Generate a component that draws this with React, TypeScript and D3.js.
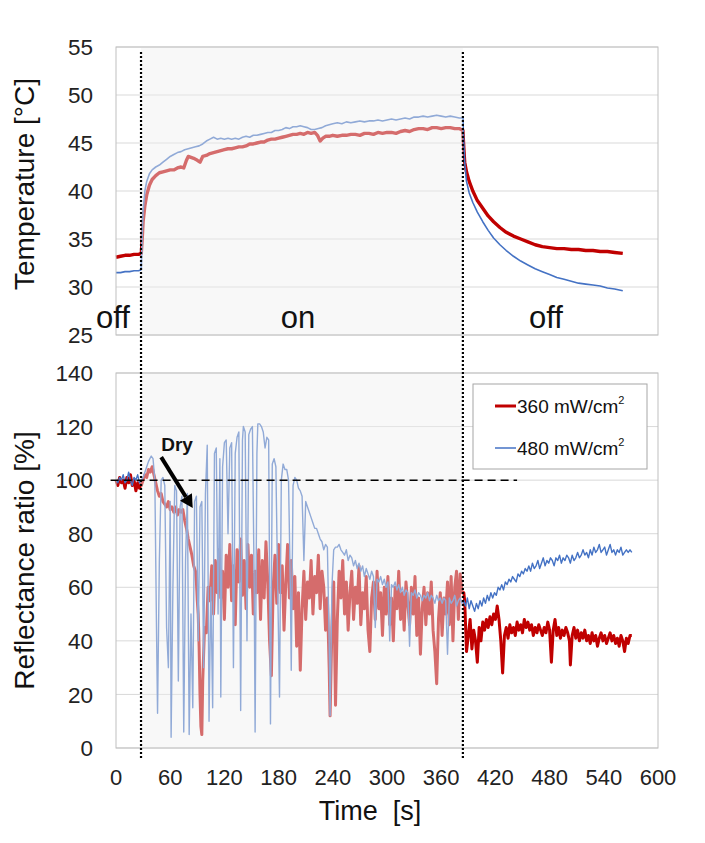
import React from "react";
import * as d3 from "d3";

const W = 705;
const H = 843;
const FONT = "'Liberation Sans', Arial, sans-serif";

// axis ticks
const timeTicks = [0, 60, 120, 180, 240, 300, 360, 420, 480, 540, 600];
const tempTicks = [25, 30, 35, 40, 45, 50, 55];
const reflTicks = [0, 20, 40, 60, 80, 100, 120, 140];

// light switched on / off [s]
const LIGHT_ON = 27.7;
const LIGHT_OFF = 384;

const seriesNames = ["360 mW/cm", "480 mW/cm"];

// temperature [°C] vs time [s]
const temp360: [number, number][] = [
  [0, 33.1], [5, 33.2], [10, 33.3], [15, 33.3], [20, 33.4], [25, 33.4], [28, 33.5],
  [29, 35.0], [30, 36.8], [32, 38.5], [34, 39.6], [37, 40.6], [40, 41.2], [44, 41.6],
  [48, 41.9], [52, 42.0], [56, 42.1], [60, 42.2], [64, 42.2], [68, 42.4], [72, 42.5],
  [75, 42.4], [78, 43.2], [80, 43.6], [83, 43.5], [86, 43.4], [90, 43.2], [93, 43.0],
  [96, 43.6], [100, 43.7], [104, 43.9], [108, 44.0], [112, 44.1], [116, 44.2], [120, 44.3],
  [124, 44.4], [128, 44.4], [132, 44.5], [136, 44.6], [140, 44.6], [144, 44.7], [148, 44.9],
  [152, 44.9], [156, 45.0], [160, 45.1], [164, 45.1], [168, 45.3], [172, 45.4], [176, 45.4],
  [180, 45.5], [184, 45.6], [188, 45.7], [192, 45.8], [196, 45.9], [200, 45.9], [204, 46.0],
  [208, 45.9], [212, 46.1], [216, 46.0], [220, 46.1], [223, 45.8], [226, 45.2], [229, 45.5],
  [232, 45.7], [236, 45.7], [240, 45.8], [245, 45.7], [250, 45.8], [255, 45.8], [260, 45.9],
  [265, 45.9], [270, 45.8], [275, 46.0], [280, 46.0], [285, 45.9], [290, 46.1], [295, 46.0],
  [300, 46.1], [305, 46.1], [310, 46.0], [315, 46.2], [320, 46.3], [325, 46.2], [330, 46.4],
  [335, 46.5], [340, 46.5], [345, 46.4], [350, 46.6], [355, 46.6], [360, 46.5], [365, 46.6],
  [370, 46.6], [375, 46.5], [380, 46.5], [384, 46.3],
  [385, 44.5], [386, 43.0], [388, 42.0], [391, 41.0], [395, 40.0], [400, 39.0], [406, 38.2],
  [412, 37.4], [418, 36.8], [425, 36.2], [432, 35.7], [440, 35.3], [448, 35.0], [456, 34.7],
  [464, 34.4], [472, 34.2], [480, 34.1], [488, 34.0], [496, 34.0], [504, 33.9], [512, 33.9],
  [520, 33.8], [528, 33.8], [536, 33.7], [544, 33.7], [552, 33.6], [561, 33.5],
];

const temp480: [number, number][] = [
  [0, 31.5], [5, 31.5], [10, 31.6], [15, 31.6], [20, 31.7], [25, 31.7], [28, 31.8],
  [29, 35.5], [30, 38.0], [32, 40.0], [34, 41.0], [37, 41.8], [40, 42.2], [44, 42.5],
  [48, 42.7], [52, 43.0], [56, 43.3], [60, 43.6], [64, 43.8], [68, 44.0], [72, 44.1],
  [76, 44.3], [80, 44.4], [84, 44.5], [88, 44.6], [92, 44.7], [96, 44.9], [100, 45.2],
  [104, 45.4], [108, 45.6], [112, 45.4], [116, 45.5], [120, 45.4], [124, 45.5], [128, 45.4],
  [132, 45.5], [136, 45.4], [140, 45.6], [144, 45.7], [148, 45.6], [152, 45.8], [156, 45.8],
  [160, 45.9], [164, 46.0], [168, 46.1], [172, 46.1], [176, 46.3], [180, 46.3], [184, 46.4],
  [188, 46.6], [192, 46.5], [196, 46.7], [200, 46.7], [204, 46.8], [208, 46.7], [212, 46.6],
  [216, 46.4], [220, 46.4], [224, 46.5], [228, 46.6], [232, 46.8], [236, 46.9], [240, 47.0],
  [245, 47.1], [250, 47.0], [255, 47.2], [260, 47.1], [265, 47.2], [270, 47.3], [275, 47.2],
  [280, 47.3], [285, 47.3], [290, 47.4], [295, 47.3], [300, 47.4], [305, 47.5], [310, 47.4],
  [315, 47.5], [320, 47.6], [325, 47.5], [330, 47.7], [335, 47.7], [340, 47.8], [345, 47.7],
  [350, 47.8], [355, 47.9], [360, 47.8], [365, 47.7], [370, 47.8], [375, 47.7], [380, 47.6],
  [384, 47.6],
  [385, 45.0], [386, 43.0], [388, 41.0], [391, 39.8], [395, 38.8], [400, 37.8], [406, 36.8],
  [412, 35.9], [418, 35.1], [425, 34.4], [432, 33.8], [440, 33.2], [448, 32.7], [456, 32.3],
  [464, 31.9], [472, 31.6], [480, 31.3], [488, 31.0], [496, 30.8], [504, 30.6], [512, 30.4],
  [520, 30.3], [528, 30.2], [536, 30.1], [544, 29.9], [552, 29.8], [561, 29.6],
];

// reflectance ratio [%] vs time [s]
const refl360: [number, number][] = [
  [0, 100], [2, 98], [4, 101], [6, 99], [8, 100], [10, 97], [12, 101], [14, 99], [16, 102],
  [18, 98], [20, 100], [22, 96], [24, 99], [26, 97], [28, 98],
  [30, 100], [32, 102], [34, 101], [36, 104], [38, 103], [40, 105], [42, 102], [44, 99],
  [46, 96], [48, 94], [50, 95], [52, 92], [54, 91], [56, 90], [58, 92], [60, 89], [62, 90],
  [64, 88], [66, 90], [68, 87], [70, 89], [72, 88], [74, 89], [76, 85], [78, 82], [80, 78],
  [82, 75], [84, 72], [86, 68], [88, 66], [89, 62], [90, 55], [91, 50], [92, 38], [93, 20],
  [94, 8], [95, 5], [96, 25], [98, 45], [100, 43], [102, 60], [104, 55], [106, 68], [108, 50],
  [110, 70], [112, 58], [114, 74], [116, 56], [118, 66], [120, 48], [122, 72], [124, 60],
  [126, 76], [128, 55], [130, 68], [132, 46], [134, 74], [136, 62], [138, 78], [140, 57],
  [142, 70], [144, 52], [146, 76], [148, 60], [150, 72], [152, 50], [154, 66], [156, 58],
  [158, 74], [160, 48], [162, 70], [164, 56], [166, 77], [168, 62], [170, 40], [172, 27],
  [174, 60], [176, 72], [178, 54], [180, 76], [182, 58], [184, 68], [186, 44], [188, 62],
  [190, 76], [192, 56], [194, 70], [196, 52], [198, 64], [200, 38], [202, 58], [204, 29],
  [206, 52], [208, 66], [210, 48], [212, 62], [214, 56], [216, 70], [218, 50], [220, 64],
  [222, 58], [224, 72], [226, 52], [228, 66], [230, 60], [232, 44], [234, 56], [236, 30],
  [237, 12], [239, 45], [241, 62], [243, 16], [245, 48], [247, 66], [249, 56], [251, 70],
  [253, 50], [255, 62], [257, 44], [259, 58], [261, 66], [263, 48], [265, 60], [267, 54],
  [269, 68], [271, 46], [273, 58], [275, 52], [277, 64], [279, 44], [281, 36], [283, 56],
  [285, 62], [287, 48], [289, 66], [291, 52], [293, 58], [295, 42], [297, 60], [299, 50],
  [301, 64], [303, 46], [305, 56], [307, 40], [309, 60], [311, 52], [313, 66], [315, 48],
  [317, 58], [319, 44], [321, 62], [323, 54], [325, 46], [327, 60], [329, 50], [331, 64],
  [333, 42], [335, 56], [337, 35], [339, 52], [341, 60], [343, 46], [345, 58], [347, 50],
  [349, 62], [351, 44], [353, 36], [355, 24], [357, 48], [359, 58], [361, 42], [363, 56],
  [365, 50], [367, 62], [369, 46], [371, 64], [373, 40], [375, 60], [377, 66], [379, 48],
  [381, 65], [383, 58],
  [385, 58], [386, 55], [388, 36], [390, 42], [392, 48], [394, 37], [396, 44], [398, 40],
  [400, 32], [402, 45], [404, 40], [406, 47], [408, 44], [410, 48], [412, 45], [414, 49],
  [416, 46], [418, 50], [420, 48], [422, 53], [424, 48], [426, 40], [428, 28], [430, 42],
  [432, 45], [434, 41], [436, 46], [438, 43], [440, 45], [442, 42], [444, 47], [446, 44],
  [448, 46], [450, 43], [452, 48], [454, 45], [456, 47], [458, 44], [460, 46], [462, 42],
  [464, 45], [466, 43], [468, 46], [470, 44], [472, 42], [474, 45], [476, 43], [478, 47],
  [480, 44], [482, 32], [484, 44], [486, 48], [488, 42], [490, 45], [492, 41], [494, 44],
  [496, 42], [498, 45], [500, 43], [502, 40], [503, 31], [505, 42], [507, 45], [509, 41],
  [511, 44], [513, 40], [515, 43], [517, 41], [519, 44], [521, 40], [523, 42], [525, 39],
  [527, 43], [529, 40], [531, 42], [533, 38], [535, 41], [537, 43], [539, 40], [541, 42],
  [543, 39], [545, 41], [547, 43], [549, 40], [551, 42], [553, 39], [555, 41], [557, 38],
  [559, 42], [561, 40], [563, 36], [565, 41], [567, 39], [569, 42], [571, 42],
];

const refl480: [number, number][] = [
  [0, 100], [2, 99], [4, 101], [6, 100], [8, 102], [10, 99], [12, 100], [14, 103], [16, 100],
  [18, 98], [20, 101], [22, 100], [24, 102], [26, 99], [28, 100],
  [30, 101], [33, 104], [36, 107], [39, 109], [41, 108], [43, 100], [45, 40], [46, 13],
  [48, 70], [50, 100], [52, 101], [54, 98], [56, 45], [58, 30], [60, 92], [61, 4], [63, 60],
  [65, 98], [67, 96], [69, 25], [71, 90], [73, 94], [75, 6], [77, 70], [79, 95], [81, 5],
  [83, 50], [85, 15], [87, 92], [89, 94], [91, 40], [93, 90], [95, 92], [97, 30], [99, 95],
  [101, 113], [103, 10], [105, 60], [107, 15], [109, 110], [111, 112], [113, 50], [115, 108],
  [116, 19], [118, 105], [120, 114], [122, 115], [124, 80], [126, 112], [128, 114], [130, 30],
  [132, 110], [134, 116], [136, 118], [138, 14], [140, 115], [141, 120], [143, 118], [145, 40],
  [147, 117], [149, 119], [151, 120], [153, 60], [154, 6], [156, 110], [157, 121], [159, 121],
  [161, 120], [163, 118], [165, 112], [167, 116], [169, 115], [171, 9], [173, 106], [175, 108],
  [177, 105], [179, 60], [181, 19], [183, 100], [185, 106], [187, 104], [189, 104], [191, 100],
  [193, 60], [194, 29], [196, 98], [198, 101], [200, 100], [202, 97], [204, 96], [206, 94],
  [208, 70], [210, 92], [212, 90], [214, 88], [216, 86], [218, 84], [220, 82], [222, 82],
  [224, 80], [226, 78], [228, 77], [230, 74], [232, 76], [234, 75], [236, 40], [237, 12],
  [239, 60], [241, 74], [243, 75], [245, 75], [247, 76], [249, 74],
  [251, 73], [253, 72], [255, 74], [257, 70], [259, 72], [261, 71], [263, 68], [265, 70],
  [267, 67], [269, 69], [271, 66], [273, 68], [275, 64], [277, 67], [279, 65], [281, 63],
  [283, 66], [285, 64], [287, 45], [289, 63], [291, 62], [293, 64], [295, 61], [297, 63],
  [299, 60], [301, 62], [303, 40], [305, 61], [307, 60], [309, 62], [311, 59], [313, 61],
  [315, 58], [317, 60], [319, 57], [321, 59], [323, 58], [325, 38], [327, 58], [329, 57],
  [331, 59], [333, 56], [335, 58], [337, 57], [339, 55], [341, 57], [343, 56], [345, 58],
  [347, 55], [349, 57], [351, 56], [353, 54], [355, 57], [357, 55], [359, 56], [361, 54],
  [363, 56], [365, 55], [367, 35], [369, 56], [371, 54], [373, 55], [375, 57], [377, 53],
  [379, 55], [381, 56], [383, 54],
  [385, 55], [387, 53], [389, 56], [391, 52], [393, 55], [395, 53], [397, 51], [399, 54],
  [401, 52], [403, 55], [405, 53], [407, 56], [409, 54], [411, 57], [413, 55], [415, 58],
  [417, 56], [419, 58], [421, 57], [423, 60], [425, 59], [427, 61], [429, 59], [431, 62],
  [433, 61], [435, 63], [437, 62], [439, 64], [441, 63], [443, 62], [445, 65], [447, 64],
  [449, 66], [451, 65], [453, 67], [455, 66], [457, 68], [459, 66], [461, 69], [463, 67],
  [465, 68], [467, 70], [469, 67], [471, 69], [473, 71], [475, 68], [477, 70], [479, 69],
  [481, 71], [483, 70], [485, 68], [487, 71], [489, 70], [491, 72], [493, 69], [495, 71],
  [497, 70], [499, 72], [501, 71], [503, 69], [505, 72], [507, 70], [509, 71], [511, 73],
  [513, 71], [515, 72], [517, 74], [519, 72], [521, 73], [523, 71], [525, 74], [527, 72],
  [529, 75], [531, 73], [533, 74], [535, 76], [537, 73], [539, 74], [541, 75], [543, 72],
  [545, 74], [547, 76], [549, 73], [551, 74], [553, 72], [555, 74], [557, 73], [559, 75],
  [561, 72], [563, 73], [565, 74], [567, 73], [569, 74], [571, 73],
];

const RED = "#c00000";
const BLUE = "#4472c4";

const x = d3.scaleLinear().domain([0, 600]).range([116, 658]);
const yTemp = d3.scaleLinear().domain([25, 55]).range([335, 47]);
const yRefl = d3.scaleLinear().domain([0, 140]).range([748, 373]);

export default function App() {
  const lineT = d3
    .line<[number, number]>()
    .x(d => x(d[0]))
    .y(d => yTemp(d[1]));
  const lineR = d3
    .line<[number, number]>()
    .x(d => x(d[0]))
    .y(d => yRefl(d[1]));

  const x0 = x(0), x1 = x(600);
  const xOn = x(LIGHT_ON), xOff = x(LIGHT_OFF);
  const tTop = yTemp(55), tBot = yTemp(25);
  const rTop = yRefl(140), rBot = yRefl(0);

  // arrow for "Dry"
  const ax1 = x(50), ay1 = yRefl(108.6);
  const ax2 = x(85), ay2 = yRefl(89.6);
  const ang = Math.atan2(ay2 - ay1, ax2 - ax1);
  const hl = 13, hw = 7;
  const bx = ax2 - hl * Math.cos(ang), by = ay2 - hl * Math.sin(ang);
  const head = [
    [ax2, ay2],
    [bx + hw * Math.sin(ang), by - hw * Math.cos(ang)],
    [bx - hw * Math.sin(ang), by + hw * Math.cos(ang)],
  ];

  return (
    <svg
      width={W}
      height={H}
      style={{ position: "absolute", left: 0, top: 0, background: "#fff" }}
      fontFamily={FONT}
    >
      <rect width={W} height={H} fill="#fff" />

      {/* top panel: temperature */}
      <g>
        {tempTicks.map(t => (
          <line key={t} x1={x0} x2={x1} y1={yTemp(t)} y2={yTemp(t)} stroke="#d9d9d9" strokeWidth={1} />
        ))}
        <path d={lineT(temp360) || ""} fill="none" stroke={RED} strokeWidth={3.4} strokeLinejoin="round" />
        <path d={lineT(temp480) || ""} fill="none" stroke={BLUE} strokeWidth={1.6} strokeLinejoin="round" />
        <rect x={xOn} y={tTop} width={xOff - xOn} height={tBot - tTop} fill="#f0f0f0" opacity={0.45} />
        <rect x={x0} y={tTop} width={x1 - x0} height={tBot - tTop} fill="none" stroke="#bfbfbf" strokeWidth={1} />
        {tempTicks.map(t => (
          <text key={t} x={93} y={yTemp(t)} dy="0.36em" textAnchor="end" fontSize={22.5} fill="#222">
            {t}
          </text>
        ))}
        <text
          transform={`translate(34, ${(tTop + tBot) / 2 - 7}) rotate(-90)`}
          textAnchor="middle"
          fontSize={28}
          fill="#111"
        >
          Temperature [°C]
        </text>
        <text x={x(-3.3)} y={yTemp(25.7)} textAnchor="middle" fontSize={31} fill="#111">off</text>
        <text x={x(201.5)} y={yTemp(25.7)} textAnchor="middle" fontSize={31} fill="#111">on</text>
        <text x={x(476)} y={yTemp(25.7)} textAnchor="middle" fontSize={31} fill="#111">off</text>
      </g>

      {/* bottom panel: reflectance */}
      <g>
        {reflTicks.map(t => (
          <line key={t} x1={x0} x2={x1} y1={yRefl(t)} y2={yRefl(t)} stroke="#d9d9d9" strokeWidth={1} />
        ))}
        <path d={lineR(refl360) || ""} fill="none" stroke={RED} strokeWidth={3} strokeLinejoin="round" />
        <path d={lineR(refl480) || ""} fill="none" stroke={BLUE} strokeWidth={1.4} strokeLinejoin="round" />
        <rect x={xOn} y={rTop} width={xOff - xOn} height={rBot - rTop} fill="#f0f0f0" opacity={0.45} />
        <rect x={x0} y={rTop} width={x1 - x0} height={rBot - rTop} fill="none" stroke="#bfbfbf" strokeWidth={1} />
        <line
          x1={x(-6)}
          x2={x(444)}
          y1={yRefl(100)}
          y2={yRefl(100)}
          stroke="#000"
          strokeWidth={1.5}
          strokeDasharray="8,5"
        />
        {reflTicks.map(t => (
          <text key={t} x={93} y={yRefl(t)} dy="0.36em" textAnchor="end" fontSize={22.5} fill="#222">
            {t}
          </text>
        ))}
        {timeTicks.map(t => (
          <text key={t} x={x(t)} y={785} textAnchor="middle" fontSize={22} fill="#222">
            {t}
          </text>
        ))}
        <text
          transform={`translate(34, ${(rTop + rBot) / 2}) rotate(-90)`}
          textAnchor="middle"
          fontSize={28}
          fill="#111"
        >
          Reflectance ratio [%]
        </text>
        <text x={370} y={820} textAnchor="middle" fontSize={27} fill="#111" style={{ whiteSpace: "pre" }}>
          {"Time  [s]"}
        </text>

        {/* Dry annotation */}
        <text x={x(50)} y={yRefl(111)} fontSize={19} fontWeight="bold" fill="#111">Dry</text>
        <line x1={ax1} y1={ay1} x2={bx} y2={by} stroke="#000" strokeWidth={4} />
        <polygon points={head.map(p => p.join(",")).join(" ")} fill="#000" />

        {/* legend */}
        <rect x={473} y={384} width={174} height={85} fill="#fff" stroke="#a6a6a6" strokeWidth={1} />
        {seriesNames.map((name, i) => {
          const ly = 406 + i * 42;
          return (
            <g key={name}>
              <line x1={495} x2={516} y1={ly} y2={ly} stroke={i === 0 ? RED : BLUE} strokeWidth={i === 0 ? 3 : 1.5} />
              <text x={517} y={ly + 7} fontSize={19} fill="#111">
                {name}
                <tspan fontSize={11} dy={-9}>2</tspan>
              </text>
            </g>
          );
        })}
      </g>

      {/* light on/off markers */}
      {[xOn, xOff].map((xv, i) => (
        <line key={i} x1={xv} x2={xv} y1={52} y2={760} stroke="#000" strokeWidth={2.2} strokeDasharray="2,2" />
      ))}
    </svg>
  );
}
